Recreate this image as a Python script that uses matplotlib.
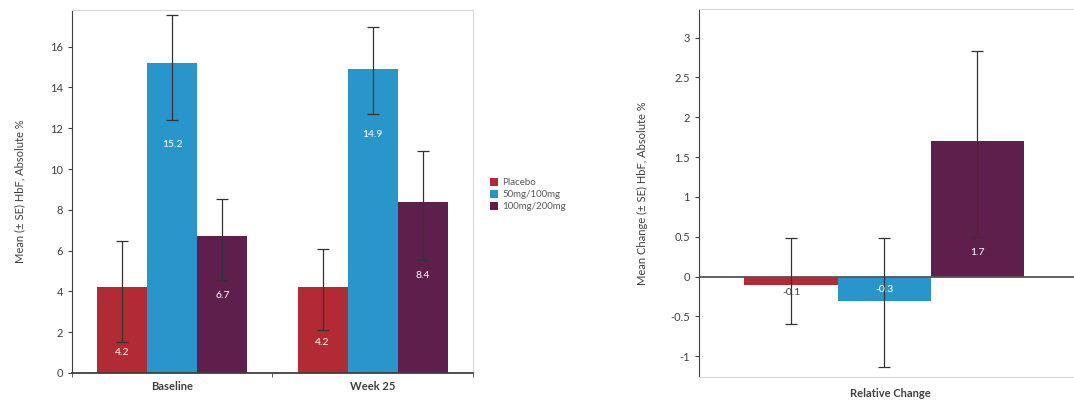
import numpy as np
import matplotlib
matplotlib.use("Agg")
import matplotlib.pyplot as plt
from matplotlib.patches import Patch

plt.rcParams['font.family'] = ['Lato', 'DejaVu Sans']

# data
groups = ["Placebo", "50mg/100mg", "100mg/200mg"]
colors = ["#B22A33", "#2996CB", "#5F1F4C"]

timepoints = ["Baseline", "Week 25"]
mean_hbf = {
    "Placebo": [4.2, 4.2],
    "50mg/100mg": [15.2, 14.9],
    "100mg/200mg": [6.7, 8.4],
}
# lower / upper ends of the error bars
err_lo = {
    "Placebo": [1.5, 2.1],
    "50mg/100mg": [12.4, 12.7],
    "100mg/200mg": [4.55, 5.55],
}
err_hi = {
    "Placebo": [6.45, 6.1],
    "50mg/100mg": [17.55, 16.95],
    "100mg/200mg": [8.55, 10.9],
}

change = [-0.1, -0.3, 1.7]
change_lo = [-0.59, -1.13, 0.5]
change_hi = [0.49, 0.49, 2.83]

dark = "#404040"
light = "#D9D9D9"

fig = plt.figure(figsize=(10.74, 4.08), dpi=100)

# ---- left panel ----
ax1 = fig.add_axes([0.0670, 0.0858, 0.3734, 0.8897])
x = np.arange(len(timepoints))
w = 0.25
label_drop = [[3.2, 2.7], [4.0, 3.2], [2.9, 3.6]]
for i, g in enumerate(groups):
    xs = x + (i - 1) * w
    vals = np.array(mean_hbf[g])
    yerr = [vals - np.array(err_lo[g]), np.array(err_hi[g]) - vals]
    ax1.bar(xs, vals, w, color=colors[i], label=g, zorder=2)
    ax1.errorbar(xs, vals, yerr=yerr, fmt="none", ecolor="#333333",
                 elinewidth=0.9, capsize=4.5, capthick=0.9, zorder=3)
    for xx, v, d in zip(xs, vals, label_drop[i]):
        ax1.text(xx, v - d, f"{v:.1f}", ha="center", va="center",
                 color="white", fontsize=7.5, zorder=4)

ax1.set_xlim(-0.5, 1.5)
ax1.set_ylim(0, 17.8)
ax1.set_yticks(np.arange(0, 17, 2))
ax1.set_xticks(x)
ax1.set_xticklabels(timepoints, fontsize=8, fontweight="bold", color=dark)
ax1.set_xticks([-0.5, 0.5, 1.5], minor=True)
ax1.tick_params(axis="x", which="major", length=0, pad=6)
ax1.tick_params(axis="x", which="minor", length=3, color=dark)
ax1.tick_params(axis="y", labelsize=8, colors=dark, length=3)
ax1.set_ylabel("Mean (± SE) HbF, Absolute %", fontsize=8, color=dark, labelpad=18)
for s in ["top", "right"]:
    ax1.spines[s].set_color(light)
for s in ["left", "bottom"]:
    ax1.spines[s].set_color(dark)
ax1.spines["bottom"].set_linewidth(1.3)

handles = [Patch(facecolor=c, label=g) for c, g in zip(colors, groups)]
fig.legend(handles=handles, loc="upper left", bbox_to_anchor=(0.448, 0.585),
           frameon=False, fontsize=7, labelcolor="#595959", handlelength=0.8,
           handleheight=0.8, handletextpad=0.5, labelspacing=0.3)

# ---- right panel ----
ax2 = fig.add_axes([0.6508, 0.076, 0.3557, 0.902])
wr = 0.244
xr = np.array([-wr, 0, wr]) - 0.015
vals = np.array(change)
yerr = [vals - np.array(change_lo), np.array(change_hi) - vals]
ax2.bar(xr, vals, wr, color=colors, zorder=2)
ax2.errorbar(xr, vals, yerr=yerr, fmt="none", ecolor="#333333",
             elinewidth=0.9, capsize=4.5, capthick=0.9, zorder=3)
ax2.axhline(0, color="#555555", lw=1.3, zorder=2.5)
label_pos = [-0.2, -0.16, 0.3]
label_col = [dark, "white", "white"]
for xx, v, ly, c in zip(xr, vals, label_pos, label_col):
    ax2.text(xx, ly, f"{v:.1f}", ha="center", va="center", color=c,
             fontsize=7.5, zorder=4)

ax2.set_xlim(-0.5, 0.5)
ax2.set_ylim(-1.26, 3.36)
ax2.set_yticks([-1, -0.5, 0, 0.5, 1, 1.5, 2, 2.5, 3])
ax2.set_yticklabels(["-1", "-0.5", "0", "0.5", "1", "1.5", "2", "2.5", "3"])
ax2.set_xticks([])
ax2.tick_params(axis="y", labelsize=8, colors=dark, length=3)
ax2.set_xlabel("Relative Change", fontsize=8, fontweight="bold", color=dark, labelpad=8)
ax2.set_ylabel("Mean Change (± SE) HbF, Absolute %", fontsize=8, color=dark, labelpad=16)
for s in ["top", "right", "bottom"]:
    ax2.spines[s].set_color(light)
ax2.spines["left"].set_color(dark)

fig.savefig("out.png", dpi=100)
